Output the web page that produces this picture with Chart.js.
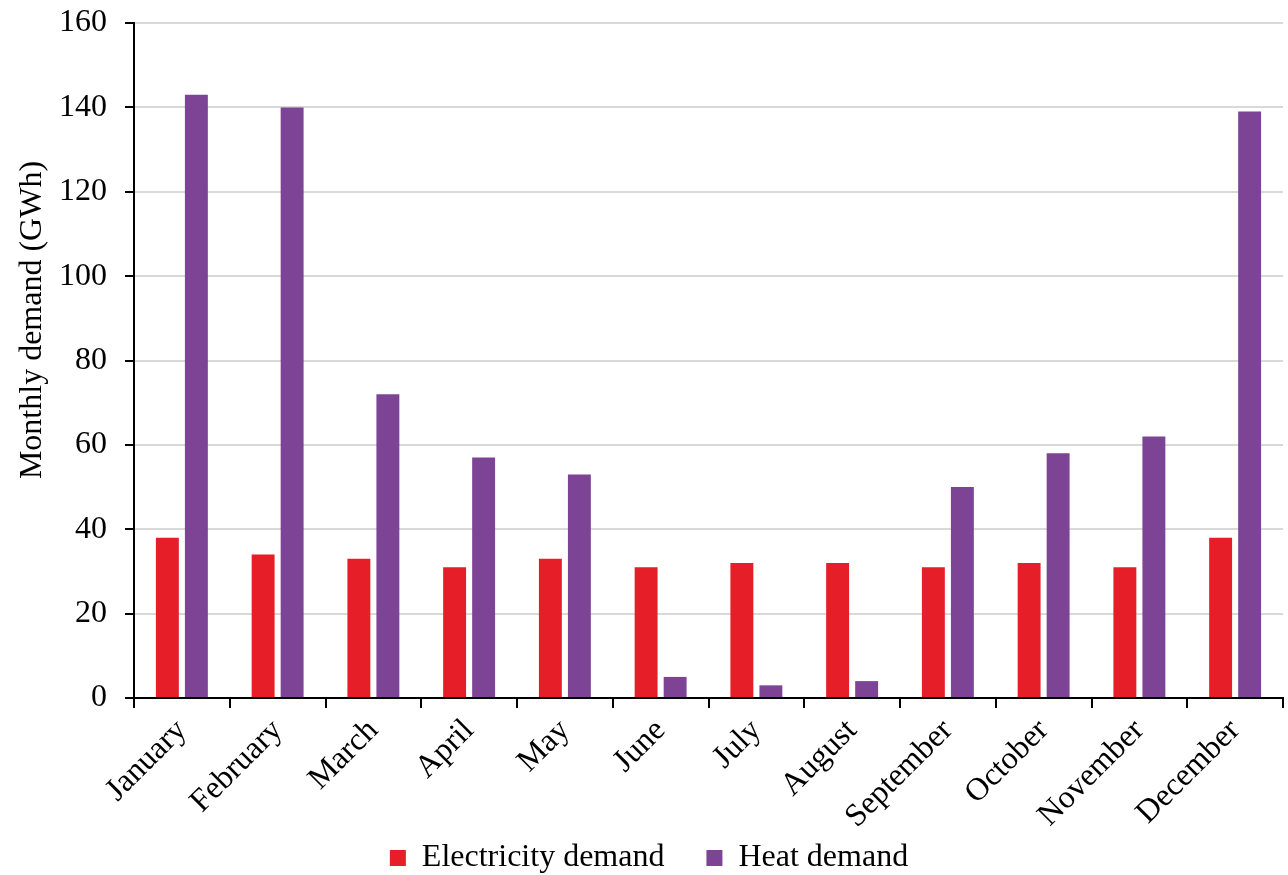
<!DOCTYPE html>
<html>
<head>
<meta charset="utf-8">
<script src="https://cdn.jsdelivr.net/npm/chart.js@4/dist/chart.umd.min.js"></script>
<style>
  html, body { margin: 0; padding: 0; background: #fff; }
  #wrap { width: 1288px; height: 875px; position: relative; }
</style>
</head>
<body>
<div id="wrap"><canvas id="myChart"></canvas></div>
<script>
var months = ["January", "February", "March", "April", "May", "June",
  "July", "August", "September", "October", "November", "December"];
var electricityDemand = [38, 34, 33, 31, 33, 31, 32, 32, 31, 32, 31, 38];
var heatDemand = [143, 140, 72, 57, 53, 5, 3, 4, 50, 58, 62, 139];
var yTicks = [0, 20, 40, 60, 80, 100, 120, 140, 160];
var yTitle = "Monthly demand (GWh)";

var serif = "'Liberation Serif', 'Times New Roman', serif";
Chart.defaults.font.family = serif;
Chart.defaults.color = "#000";

// axis title sits a bit above the middle of the axis in the original
var yTitlePlugin = {
  id: "yTitle",
  afterDraw: function (chart) {
    var c = chart.ctx;
    c.save();
    c.translate(33, 320);
    c.rotate(-Math.PI / 2);
    c.font = "32px " + serif;
    c.fillStyle = "#000";
    c.textAlign = "center";
    c.textBaseline = "middle";
    c.fillText(yTitle, 0, 0);
    c.restore();
  },
};

var ctx = document.getElementById("myChart").getContext("2d");
var myChart = new Chart(ctx, {
  type: "bar",
  plugins: [yTitlePlugin],
  data: {
    labels: months,
    datasets: [
      {
        label: "Electricity demand",
        data: electricityDemand,
        backgroundColor: "#E51E28",
        borderWidth: 0,
        categoryPercentage: 0.606,
        barPercentage: 0.79,
      },
      {
        label: "Heat demand",
        data: heatDemand,
        backgroundColor: "#7D4395",
        borderWidth: 0,
        categoryPercentage: 0.606,
        barPercentage: 0.79,
      },
    ],
  },
  options: {
    responsive: true,
    maintainAspectRatio: false,
    animation: false,
    layout: { padding: { left: 15, right: 5, top: 0, bottom: 0 } },
    plugins: {
      tooltip: { enabled: false },
      legend: {
        position: "bottom",
        maxHeight: 38,
        labels: {
          boxWidth: 16,
          boxHeight: 16,
          padding: 5,
          font: { size: 32 },
          color: "#000",
          generateLabels: function (chart) {
            var items = Chart.defaults.plugins.legend.labels.generateLabels(chart);
            // empty spacer item to widen the gap between the two entries
            items.splice(1, 0, {
              text: "",
              fillStyle: "rgba(0,0,0,0)",
              strokeStyle: "rgba(0,0,0,0)",
              lineWidth: 0,
              datasetIndex: -1,
            });
            return items;
          },
        },
      },
    },
    scales: {
      x: {
        afterFit: function (axis) {
          axis.height = 139;
        },
        grid: {
          display: true,
          drawOnChartArea: false,
          tickLength: 10,
          tickColor: "#000",
          lineWidth: 2,
        },
        border: { color: "#000", width: 2 },
        ticks: {
          maxRotation: 45,
          minRotation: 45,
          padding: 4,
          font: { size: 32 },
          color: "#000",
        },
      },
      y: {
        min: 0,
        max: 160,
        afterBuildTicks: function (axis) {
          axis.ticks = yTicks.map(function (v) { return { value: v }; });
        },
        afterFit: function (axis) {
          axis.width = 119;
          axis.paddingTop = 23;
        },
        grid: {
          color: "#D9D9D9",
          lineWidth: 2,
          tickLength: 9,
          tickColor: "#000",
        },
        border: { color: "#000", width: 2 },
        ticks: {
          padding: 18,
          font: { size: 32 },
          color: "#000",
        },
      },
    },
  },
});
</script>
</body>
</html>
